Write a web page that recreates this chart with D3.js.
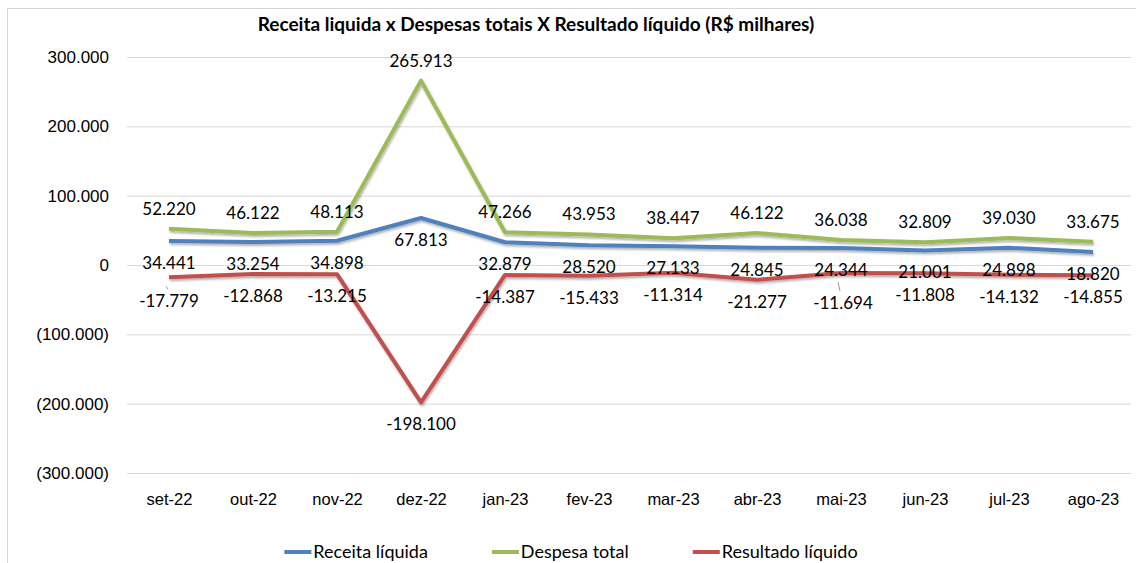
<!DOCTYPE html>
<html>
<head>
<meta charset="utf-8">
<script src="https://cdn.jsdelivr.net/npm/d3@7"></script>
<style>
  body { margin: 0; background: #fff; }
  svg { display: block; font-family: Lato, "Open Sans", sans-serif; }
</style>
</head>
<body>
<svg id="chart" width="1136" height="563"></svg>
<script>
const months = ["set-22", "out-22", "nov-22", "dez-22", "jan-23", "fev-23", "mar-23", "abr-23", "mai-23", "jun-23", "jul-23", "ago-23"];
const receita = [34441, 33254, 34898, 67813, 32879, 28520, 27133, 24845, 24344, 21001, 24898, 18820];
const despesa = [52220, 46122, 48113, 265913, 47266, 43953, 38447, 46122, 36038, 32809, 39030, 33675];
const resultado = [-17779, -12868, -13215, -198100, -14387, -15433, -11314, -21277, -11694, -11808, -14132, -14855];
const yTicks = [-300000, -200000, -100000, 0, 100000, 200000, 300000];
const seriesNames = ["Receita líquida", "Despesa total", "Resultado líquido"];

const series = [
  { name: seriesNames[0], values: receita, color: "#4F81BD", dy: 22 },
  { name: seriesNames[1], values: despesa, color: "#9BBB59", dy: -20 },
  { name: seriesNames[2], values: resultado, color: "#C0504D", dy: 22 }
];

const locale = d3.formatLocale({ decimal: ",", thousands: ".", grouping: [3], currency: ["R$", ""], minus: "-" });
const fmt = locale.format(",d");
const tickFmt = d => d < 0 ? "(" + fmt(-d) + ")" : fmt(d);

const svg = d3.select("#chart");

// shadow like the excel lines
const defs = svg.append("defs");
defs.append("filter")
  .attr("id", "shadow")
  .attr("x", "-5%").attr("y", "-5%").attr("width", "110%").attr("height", "120%")
  .append("feDropShadow")
  .attr("dx", 1).attr("dy", 2).attr("stdDeviation", 1.2)
  .attr("flood-color", "#000").attr("flood-opacity", 0.3);

// chart border
svg.append("rect")
  .attr("x", 7.5).attr("y", 8.5)
  .attr("width", 1140).attr("height", 570)
  .attr("fill", "none").attr("stroke", "#D9D9D9");

const x = d3.scalePoint().domain(months).range([127, 1135]).padding(0.5);
const y = d3.scaleLinear().domain([-300000, 300000]).range([473, 57]);

// title
svg.append("text")
  .attr("x", 536).attr("y", 31)
  .attr("text-anchor", "middle")
  .attr("font-size", 19).attr("font-weight", "bold")
  .attr("fill", "#000")
  .text("Receita liquida x Despesas totais X Resultado líquido (R$ milhares)");

// gridlines + y labels
const yAxis = svg.append("g")
  .attr("transform", "translate(127,0)")
  .call(d3.axisLeft(y).tickValues(yTicks).tickFormat(tickFmt).tickSize(-1004).tickPadding(18));
yAxis.select(".domain").remove();
yAxis.selectAll(".tick line").attr("stroke", "#D9D9D9");
yAxis.selectAll(".tick text").attr("font-size", 17).attr("fill", "#000").attr("font-family", null);

// x labels
const xAxis = svg.append("g")
  .attr("transform", "translate(0,473)")
  .call(d3.axisBottom(x).tickSize(0).tickPadding(20));
xAxis.select(".domain").remove();
xAxis.selectAll(".tick text").attr("font-size", 16.5).attr("fill", "#000").attr("font-family", null);

const line = d3.line()
  .x((d, i) => x(months[i]))
  .y(d => y(d));

svg.append("g")
  .selectAll("path")
  .data(series)
  .join("path")
  .attr("d", s => line(s.values))
  .attr("fill", "none")
  .attr("stroke", s => s.color)
  .attr("stroke-width", 4)
  .attr("stroke-linejoin", "round")
  .attr("filter", "url(#shadow)");

// labels moved by hand in the original
const nudge = { "2-8": [2, 30], "2-0": [0, 24] };

series.forEach((s, si) => {
  const g = svg.append("g");
  s.values.forEach((v, i) => {
    const n = nudge[si + "-" + i] || [0, s.dy];
    const px = x(months[i]), py = y(v);
    if (nudge[si + "-" + i]) {
      g.append("line")
        .attr("x1", px - 3).attr("y1", py + 9)
        .attr("x2", px - 1).attr("y2", py + n[1] - 12)
        .attr("stroke", "#7f7f7f").attr("stroke-width", 0.8);
    }
    g.append("text")
      .attr("x", px + n[0]).attr("y", py + n[1])
      .attr("dy", "0.35em")
      .attr("text-anchor", "middle")
      .attr("font-size", 17)
      .attr("fill", "#000")
      .text(fmt(v));
  });
});

// legend
const legend = svg.append("g").attr("transform", "translate(0,552)");
const items = legend.selectAll("g").data(series).join("g");
items.append("line")
  .attr("x1", 0).attr("x2", 27)
  .attr("stroke", s => s.color).attr("stroke-width", 4);
items.append("text")
  .attr("x", 29).attr("dy", "0.35em")
  .attr("font-size", 18).attr("fill", "#000")
  .text(s => s.name);
const widths = items.nodes().map(n => n.getBBox().width);
const gap = 64;
const total = d3.sum(widths) + gap * (widths.length - 1);
let cx = 571 - total / 2;
items.attr("transform", (d, i) => {
  const t = `translate(${cx},0)`;
  cx += widths[i] + gap;
  return t;
});
</script>
</body>
</html>
